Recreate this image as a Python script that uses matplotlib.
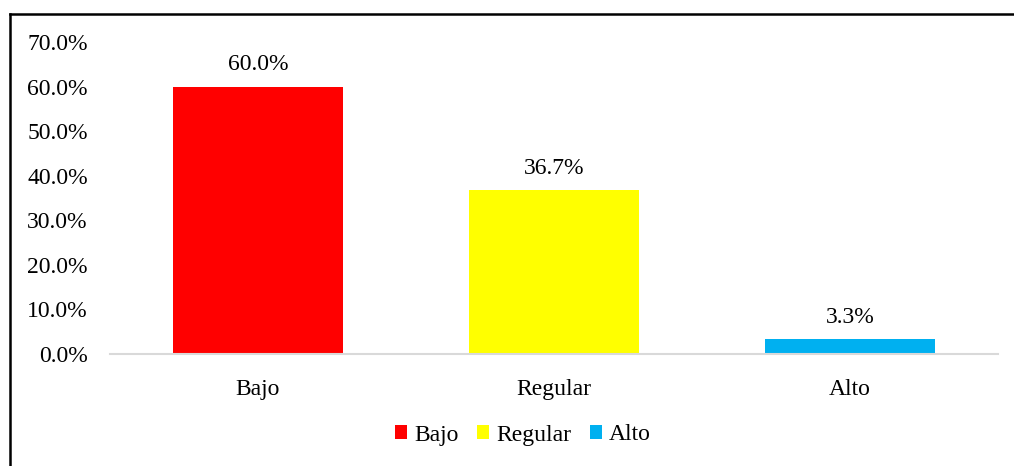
import matplotlib
matplotlib.use("Agg")
import matplotlib.pyplot as plt
from matplotlib.lines import Line2D
from matplotlib.patches import Patch

categories = ["Bajo", "Regular", "Alto"]
values = [0.600, 0.367, 0.033]
labels = ["60.0%", "36.7%", "3.3%"]
colors = ["#FF0000", "#FFFF00", "#00B0F0"]
yticks = [0.0, 0.1, 0.2, 0.3, 0.4, 0.5, 0.6, 0.7]

plt.rcParams['font.family'] = ['Liberation Serif', 'DejaVu Serif']
W, H = 1014, 466
fig = plt.figure(figsize=(W / 100, H / 100), dpi=100)

# outer border (left and top visible)
fig.add_artist(Line2D([9.5 / W, 9.5 / W], [0, 1 - 13.5 / H], color='black', lw=1.8, transform=fig.transFigure))
fig.add_artist(Line2D([9.5 / W, 1.0], [1 - 13.5 / H, 1 - 13.5 / H], color='black', lw=1.8, transform=fig.transFigure))

fs = 17
ax = fig.add_axes([110 / W, (H - 354) / H, (998 - 110) / W, (354 - 42) / H])
x = list(range(len(categories)))
ax.bar(x, values, width=0.574, color=colors, zorder=2)
ax.set_xlim(-0.5, 2.5)
ax.set_ylim(0, 0.7)
ax.set_yticks(yticks)
ax.set_yticklabels([f"{v*100:.1f}%" for v in yticks], fontsize=fs)
ax.set_xticks(x)
ax.set_xticklabels(categories, fontsize=fs)
ax.tick_params(axis='y', length=0, pad=16)
ax.tick_params(axis='x', length=0, pad=18)
for s in ['left', 'right', 'top']:
    ax.spines[s].set_visible(False)
ax.spines['bottom'].set_color('#D9D9D9')
ax.spines['bottom'].set_linewidth(1.5)

for xi, v, lab in zip(x, values, labels):
    ax.annotate(lab, (xi, v), xytext=(0, 16), textcoords='offset points',
                ha='center', va='center', fontsize=fs)

handles = [Patch(facecolor=c, edgecolor='none') for c in colors]
fig.legend(handles, categories, loc='center', bbox_to_anchor=(523 / W, 1 - 435 / H),
           ncol=3, frameon=False, fontsize=fs, handlelength=0.5, handleheight=0.5,
           handletextpad=0.3, columnspacing=0.8)

fig.savefig("out.png", dpi=100)
